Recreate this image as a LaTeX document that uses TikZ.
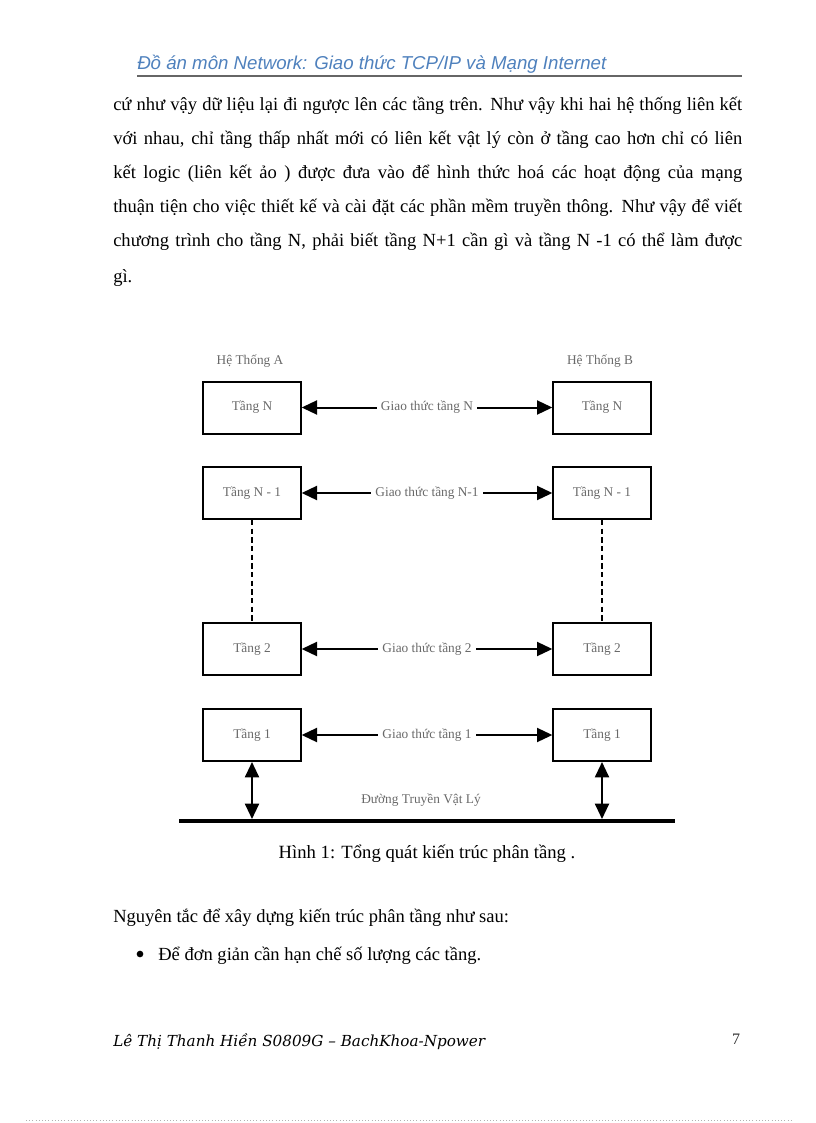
\documentclass[tikz,border=0pt]{standalone}
\usepackage{fontspec}
\setmainfont{Liberation Serif}
\newfontfamily\cabecera{Liberation Sans}
\newfontfamily\pie{DejaVu Serif}
\usetikzlibrary{arrows.meta}
\definecolor{azulcab}{RGB}{79,129,189}
\definecolor{grisdiag}{RGB}{105,105,105}
\newcommand{\renglon}[1]{\makebox[471.75pt][s]{#1}}
\tikzset{
  cuerpo/.style={inner sep=0pt, font=\fontsize{13.9}{16}\selectfont},
  tang/.style={draw, line width=1.5pt, minimum width=73pt, minimum height=39pt,
    inner sep=0pt, text=grisdiag, font=\fontsize{10}{12}\selectfont},
  nhan/.style={fill=white, inner sep=3pt, text=grisdiag, font=\fontsize{10}{12}\selectfont},
  proto/.style={{Triangle[length=11.5pt,width=10.5pt]}-{Triangle[length=11.5pt,width=10.5pt]}, line width=1.5pt}
}
\begin{document}
\begin{tikzpicture}[x=0.75pt,y=-0.75pt]
\useasboundingbox (0,0) rectangle (816,1123);
% Cabecera de la pagina
\node[inner sep=0pt, anchor=base west, text=azulcab, font=\cabecera\itshape\fontsize{14}{16}\selectfont] (cab) at (137,70) {Đồ án môn Network: Giao thức TCP/IP và Mạng Internet};
\draw[line width=1.5pt, black!60] (137,76) -- (742,76);
% Parrafo de arriba, una linea por nodo
\node[cuerpo, anchor=base west] (l1) at (113,111) {\renglon{cứ như vậy dữ liệu lại đi ngược lên các tầng trên. Như vậy khi hai hệ thống liên kết}};
\node[cuerpo, anchor=base west] (l2) at (113,145) {\renglon{với nhau, chỉ tầng thấp nhất mới có liên kết vật lý còn ở tầng cao hơn chỉ có liên}};
\node[cuerpo, anchor=base west] (l3) at (113,179) {\renglon{kết logic (liên kết ảo ) được đưa vào để hình thức hoá các hoạt động của mạng}};
\node[cuerpo, anchor=base west] (l4) at (113,213) {\renglon{thuận tiện cho việc thiết kế và cài đặt các phần mềm truyền thông. Như vậy để viết}};
\node[cuerpo, anchor=base west] (l5) at (113,247) {\renglon{chương trình cho tầng N, phải biết tầng N+1 cần gì và tầng N -1 có thể làm được}};
\node[cuerpo, anchor=base west] (l6) at (113,282) {gì.};
% Los dos sistemas
\node[nhan, fill=none, anchor=base] (ha) at (250,364) {Hệ Thống A};
\node[nhan, fill=none, anchor=base] (hb) at (600,364) {Hệ Thống B};
\node[tang] (aN) at (252,407.5) {Tầng N};
\node[tang] (bN) at (602,407.5) {Tầng N};
\node[tang] (aN1) at (252,493) {Tầng N - 1};
\node[tang] (bN1) at (602,493) {Tầng N - 1};
\node[tang] (a2) at (252,649) {Tầng 2};
\node[tang] (b2) at (602,649) {Tầng 2};
\node[tang] (a1) at (252,735) {Tầng 1};
\node[tang] (b1) at (602,735) {Tầng 1};
% Protocolos entre tangs iguales
\draw[proto] (aN) -- node[nhan] {Giao thức tầng N} (bN);
\draw[proto] (aN1) -- node[nhan] {Giao thức tầng N-1} (bN1);
\draw[proto] (a2) -- node[nhan] {Giao thức tầng 2} (b2);
\draw[proto] (a1) -- node[nhan] {Giao thức tầng 1} (b1);
\draw[line width=1.5pt, dash pattern=on 4pt off 2.5pt] (aN1) -- (a2);
\draw[line width=1.5pt, dash pattern=on 4pt off 2.5pt] (bN1) -- (b2);
% Linea fisica
\coordinate (fi) at (179,821);
\coordinate (fd) at (675,821);
\coordinate (pa) at (252,819);
\coordinate (pb) at (602,819);
\draw[line width=3pt] (fi) -- (fd);
\draw[proto] (a1) -- (pa);
\draw[proto] (b1) -- (pb);
\node[nhan, fill=none, anchor=base] (dt) at (421,803) {Đường Truyền Vật Lý};
\node[cuerpo, anchor=base, font=\fontsize{14}{16}\selectfont] (cap) at (427,858) {Hình 1: Tổng quát kiến trúc phân tầng .};
% Texto de abajo
\node[cuerpo, anchor=base west] (ng) at (113,922) {Nguyên tắc để xây dựng kiến trúc phân tầng như sau:};
\node[circle, fill=black, inner sep=0pt, minimum size=5pt] (bul) at (140,954) {};
\node[cuerpo, anchor=base west] (d1) at (158,960) {Để đơn giản cần hạn chế số lượng các tầng.};
% Pie de pagina
\node[inner sep=0pt, anchor=base west, font=\pie\itshape\fontsize{11.4}{14}\selectfont] (pie) at (113,1046) {Lê Thị Thanh Hiền S0809G – BachKhoa-Npower};
\node[inner sep=0pt, anchor=base, font=\fontsize{12}{14}\selectfont, text=black!80] (pg) at (736,1044) {7};
\draw[black!30, dotted] (26,1120) -- (792,1120);
\end{tikzpicture}
\end{document}
